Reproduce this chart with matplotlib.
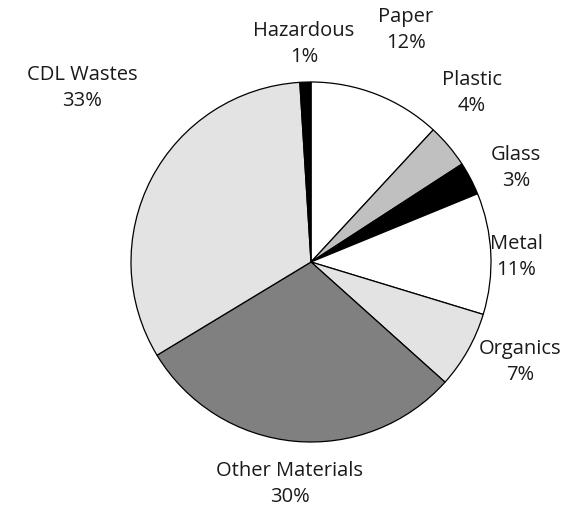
import matplotlib
matplotlib.use("Agg")
import matplotlib.pyplot as plt

categories = ["Paper", "Plastic", "Glass", "Metal", "Organics",
              "Other Materials", "CDL Wastes", "Hazardous"]
shares = [12, 4, 3, 11, 7, 30, 33, 1]
fills = ["#ffffff", "#c0c0c0", "#000000", "#ffffff", "#e3e3e3",
         "#808080", "#e3e3e3", "#000000"]

# label anchor points in units of the pie radius
label_xy = [(0.528, 1.289), (0.894, 0.939), (1.139, 0.522), (1.139, 0.028),
            (1.161, -0.556), (-0.117, -1.233), (-1.272, 0.967), (-0.039, 1.211)]

plt.rcParams["font.family"] = ["Open Sans", "DejaVu Sans"]

W, H = 570, 511
fig = plt.figure(figsize=(W / 100, H / 100), dpi=100)
cx, cy, r = 311, 262, 180
ax = fig.add_axes([(cx - r) / W, (H - cy - r) / H, 2 * r / W, 2 * r / H])

ax.pie(shares, colors=fills, startangle=90, counterclock=False, radius=1,
       wedgeprops=dict(edgecolor="black", linewidth=0.9))
ax.set_xlim(-1, 1)
ax.set_ylim(-1, 1)
ax.set_aspect("equal")
ax.axis("off")

for name, val, (x, y) in zip(categories, shares, label_xy):
    ax.text(x, y, f"{name}\n{val}%", ha="center", va="center",
            fontsize=14.5, color="#1a1a1a", linespacing=1.45, clip_on=False)

fig.savefig("out.png", dpi=100)
